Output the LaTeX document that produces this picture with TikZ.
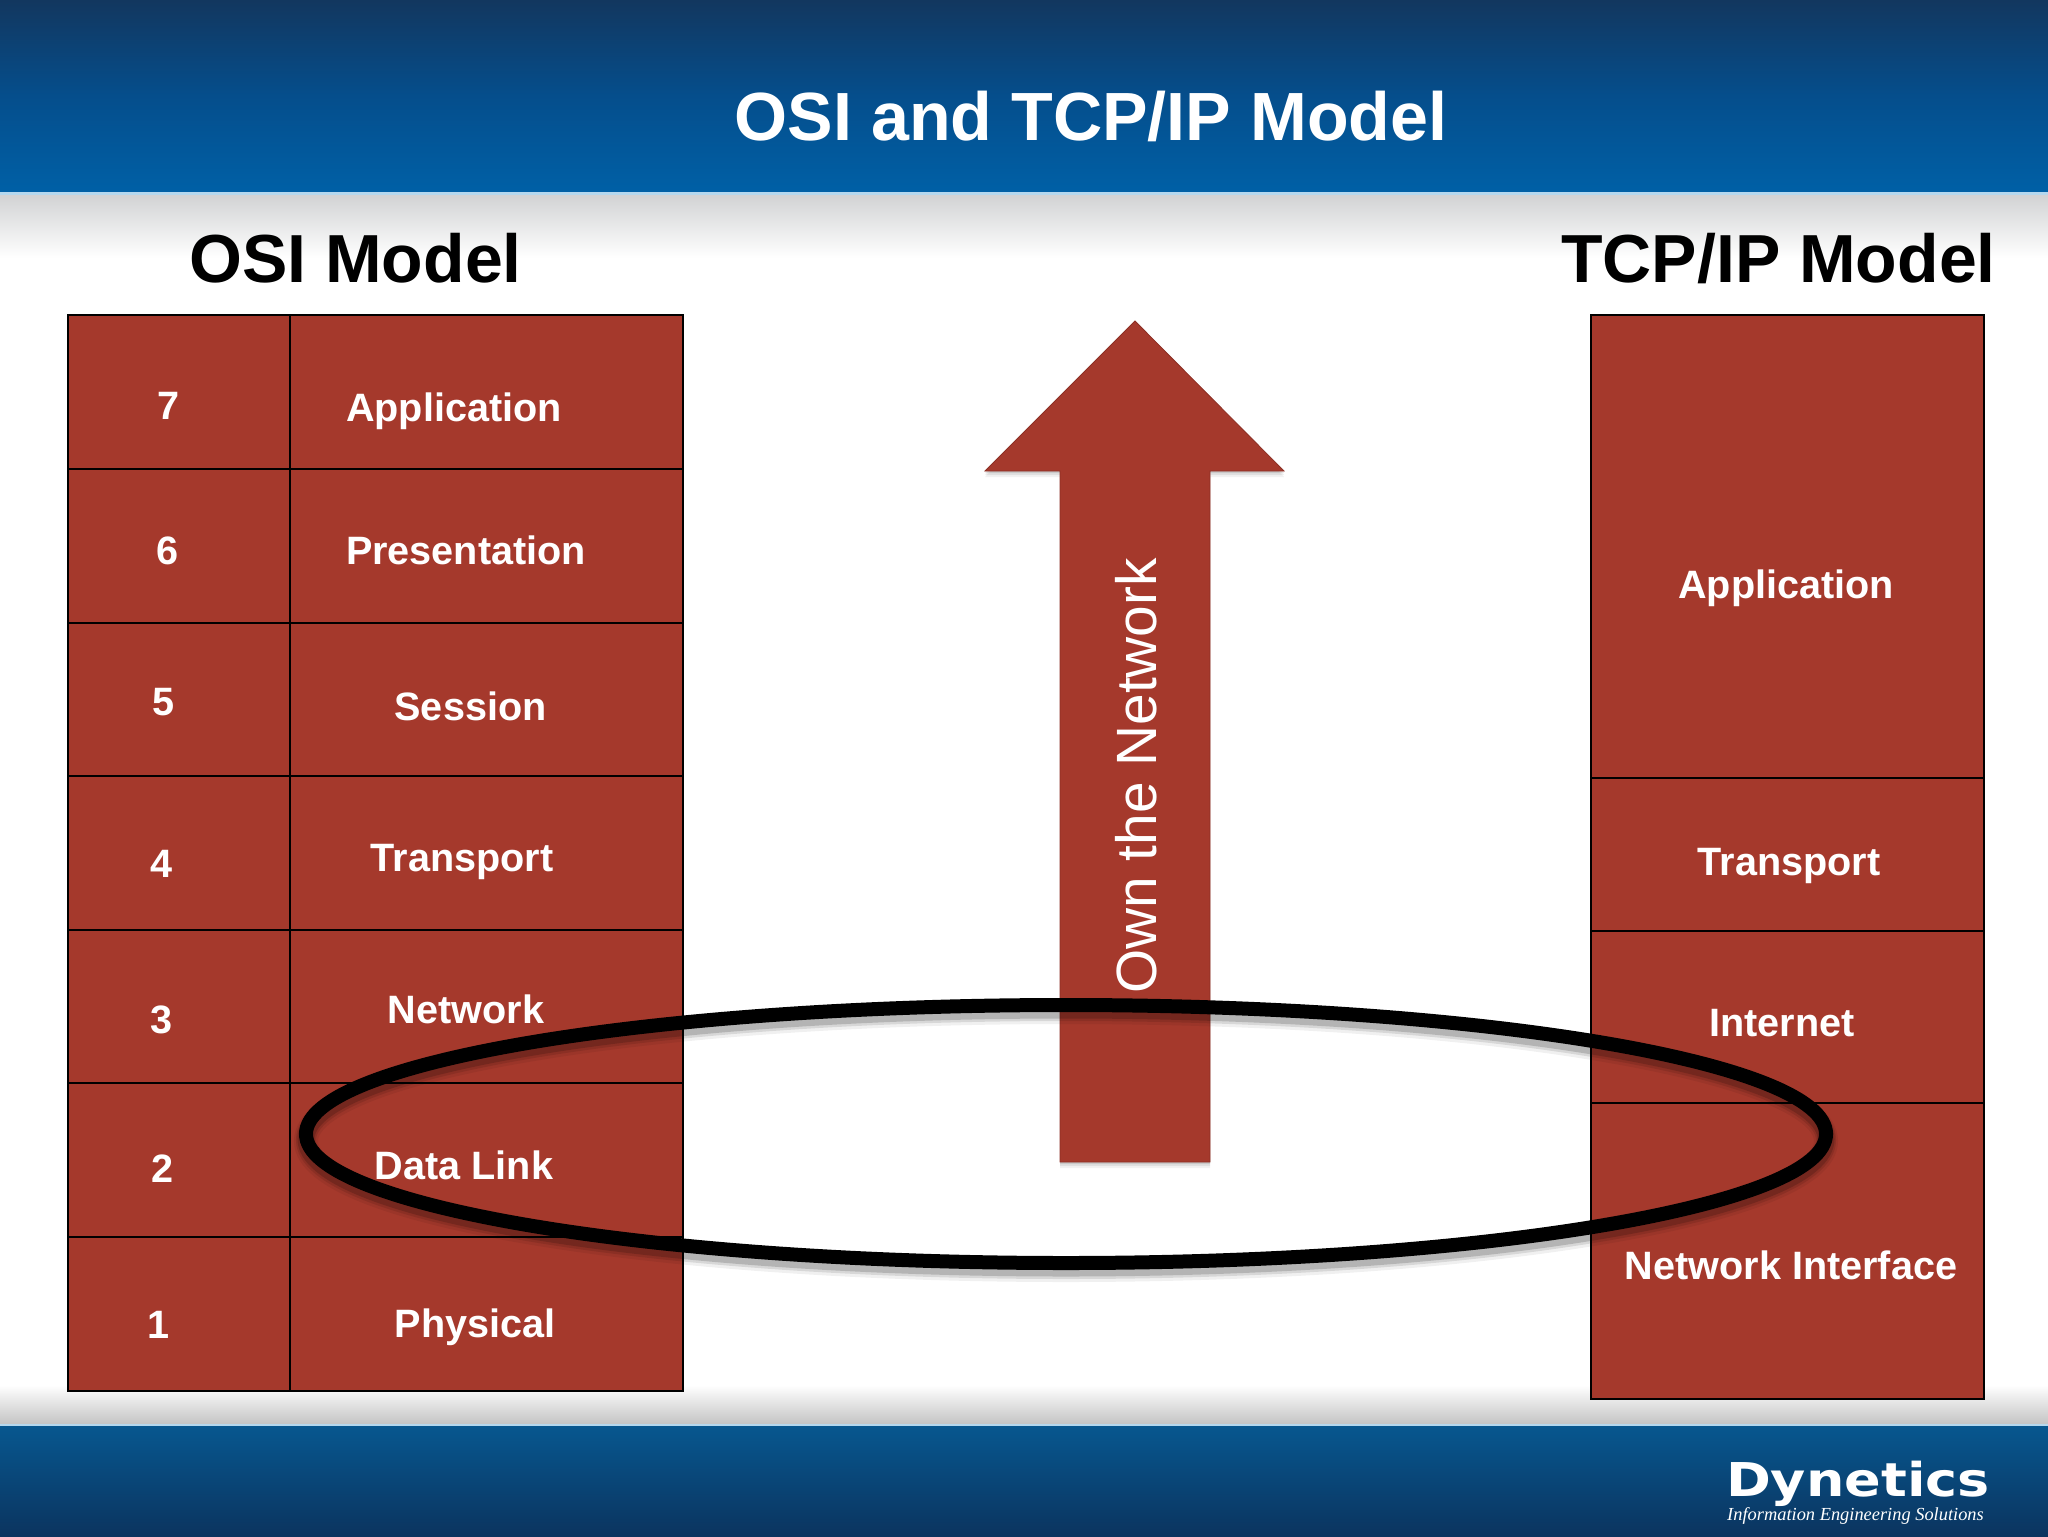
\documentclass[tikz,border=0pt]{standalone}
\usepackage{fontspec}
\setmainfont{Liberation Sans}
\newfontfamily\serifit{Liberation Serif}
\newfontfamily\logofont{DejaVu Sans}
\definecolor{brick}{HTML}{A5392C}
\definecolor{hdrtop}{HTML}{12375F}
\definecolor{hdrmid}{HTML}{054E8C}
\definecolor{hdrbot}{HTML}{0060A6}
\definecolor{ftrtop}{HTML}{07578F}
\definecolor{ftrbot}{HTML}{0B345F}
\definecolor{rimblue}{HTML}{B5D8EE}
\definecolor{greybar}{HTML}{D2D3D4}
\tikzset{
  cellbox/.style={draw=black,fill=brick,line width=1pt},
  lab/.style={text=white,font=\fontsize{19.8}{22}\selectfont\bfseries,inner sep=0pt,text height=14.2pt,text depth=0pt},
  bighead/.style={text=black,font=\fontsize{34}{36}\selectfont\bfseries,inner sep=0pt,text height=24.4pt,text depth=0pt},
  toptitle/.style={text=white,font=\fontsize{34.1}{36}\selectfont\bfseries,inner sep=0pt,text height=24.5pt,text depth=0pt},
  arrowshape/.style={fill=brick,draw=brick!85!black,line width=0.4pt},
  ringline/.style={draw=black,line width=7pt}
}
\begin{document}
\begin{tikzpicture}[x=0.5pt,y=-0.5pt]
\useasboundingbox (0,0) rectangle (2048,1536);
\fill[white] (0,0) rectangle (2048,1536);
% header / footer bands
\shade[top color=hdrtop,bottom color=hdrbot,middle color=hdrmid] (0,0) rectangle (2048,192);
\fill[rimblue] (0,192) rectangle (2048,195);
\shade[top color=greybar,bottom color=white] (0,195) rectangle (2048,258);
\shade[top color=white,bottom color=black!23] (0,1385) rectangle (2048,1424);
\fill[rimblue] (0,1424) rectangle (2048,1426);
\shade[top color=ftrtop,bottom color=ftrbot] (0,1426) rectangle (2048,1536);
% OSI table
\foreach \a/\b in {315/469,469/623,623/776,776/930,930/1083,1083/1237,1237/1391}{
  \path[cellbox] (68,\a) rectangle (290,\b);
  \path[cellbox] (290,\a) rectangle (683,\b);
}
% TCP/IP table
\foreach \a/\b in {315/778,778/931,931/1103,1103/1399}{
  \path[cellbox] (1591,\a) rectangle (1984,\b);
}
% arrow shadow and arrow
\foreach \d/\o in {6/.05,4/.07,2/.1}{
  \fill[black,opacity=\o] (1060,471+\d) -- (985,471+\d) -- (1135,321) -- (1284,471+\d) -- (1210,471+\d) -- (1210,1162+\d) -- (1060,1162+\d) -- cycle;
}
\path[arrowshape] (1060,471) -- (985,471) -- (1135,321) -- (1284,471) -- (1210,471) -- (1210,1162) -- (1060,1162) -- cycle;
% ring
\foreach \d/\w/\o in {7/24/.06,6/20/.1,5/17/.16}{
  \draw[black,opacity=\o,line width=\w*0.5pt] (1066,1134+\d) ellipse [x radius=760,y radius=129];
}
\draw[ringline] (1066,1134) ellipse [x radius=760,y radius=129];
% titles
\node[toptitle] (title) at (1091,116) {OSI and TCP/IP Model};
\node[bighead] (osihead) at (355.5,258) {OSI Model};
\node[bighead] (tcphead) at (1778.5,258) {TCP/IP Model};
% OSI numbers
\node[lab] (n7) at (169,405) {7};
\node[lab] (n6) at (168,550) {6};
\node[lab] (n5) at (164,701) {5};
\node[lab] (n4) at (162,863) {4};
\node[lab] (n3) at (162,1019) {3};
\node[lab] (n2) at (163,1168) {2};
\node[lab] (n1) at (159,1324) {1};
% OSI names
\node[lab] (o7) at (454,407) {Application};
\node[lab] (o6) at (466,550) {Presentation};
\node[lab] (o5) at (470.5,706) {Session};
\node[lab] (o4) at (462,857) {Transport};
\node[lab] (o3) at (466,1009) {Network};
\node[lab] (o2) at (464,1165) {Data Link};
\node[lab] (o1) at (475,1323) {Physical};
% TCP/IP names
\node[lab] (t4) at (1786,584) {Application};
\node[lab] (t3) at (1789,861) {Transport};
\node[lab] (t2) at (1782,1022) {Internet};
\node[lab] (t1) at (1791,1265) {Network Interface};
% arrow text
\node[text=white,font=\fontsize{28.4}{32}\selectfont,rotate=90,inner sep=0pt,text height=20.4pt,text depth=0pt] (own) at (1136,776) {Own the Network};
% logo
\node[text=white,font=\fontsize{23.3}{26}\logofont\bfseries,xscale=1.16,inner sep=0pt,text height=17pt,text depth=0pt] (logo) at (1858,1479) {Dynetics};
\node[text=white,font=\fontsize{9.2}{12}\serifit\itshape,inner sep=0pt] (tag) at (1855.5,1516) {Information Engineering Solutions};
\end{tikzpicture}
\end{document}
